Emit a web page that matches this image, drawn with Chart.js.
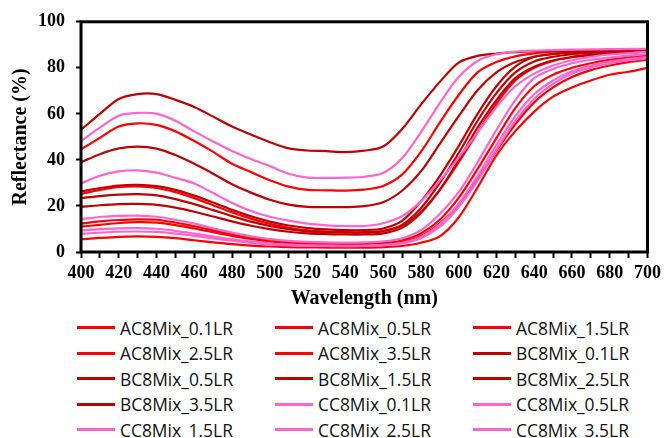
<!DOCTYPE html>
<html>
<head>
<meta charset="utf-8">
<script src="https://cdn.jsdelivr.net/npm/chart.js@4"></script>
<style>
  body { margin: 0; background: #fff; }
  #wrap { position: relative; width: 666px; height: 438px; overflow: hidden; background: #fff; }
  #box { position: absolute; left: 0; top: 0; width: 666px; height: 312px; }
  #legend {
    position: absolute; left: 77px; top: 315px;
    display: grid; grid-template-columns: 198px 198px 198px; grid-auto-rows: 25.5px;
    font-family: "Open Sans", sans-serif; font-size: 17.4px; color: #111;
  }
  .item { display: flex; align-items: center; white-space: nowrap; }
  .swatch { width: 38px; height: 3px; margin-right: 5px; }
</style>
</head>
<body>
<div id="wrap">
  <div id="box"><canvas id="chart"></canvas></div>
  <div id="legend"></div>
</div>
<script>
const wavelengths = [400, 410, 420, 430, 440, 450, 460, 470, 480, 490, 500, 510, 520, 530, 540, 550,
  560, 570, 580, 590, 600, 610, 620, 630, 640, 650, 660, 670, 680, 690, 700];

// AC8Mix (red)
const ac01 = [44.6, 49.6, 54.5, 55.9, 55.2, 52.4, 48.2, 43.5, 38.3, 34.7, 31.2, 28.4, 27.0, 26.8, 26.7, 27.1, 28.7,
  33.6, 43.5, 56.2, 68.2, 78.0, 82.5, 85.0, 86.3, 87.0, 87.4, 87.6, 87.8, 87.9, 88.0];
const ac05 = [25.2, 27.0, 28.3, 28.5, 27.8, 26.0, 23.4, 20.3, 17.2, 14.5, 12.2, 10.5, 9.4, 8.9, 8.6, 8.6, 9.2,
  11.5, 17.5, 27.0, 39.0, 52.0, 64.5, 74.5, 80.0, 83.0, 84.6, 85.5, 86.1, 86.6, 87.0];
const ac15 = [12.4, 13.3, 13.9, 14.2, 14.0, 12.8, 11.2, 9.4, 7.6, 6.1, 5.0, 4.2, 3.8, 3.6, 3.5, 3.6, 3.9,
  5.0, 8.0, 14.0, 23.5, 36.0, 49.5, 62.5, 72.0, 77.0, 80.0, 82.0, 83.5, 84.5, 85.3];
const ac25 = [11.0, 11.8, 12.6, 13.0, 12.8, 11.7, 10.2, 8.6, 7.0, 5.7, 4.6, 3.8, 3.4, 3.2, 3.1, 3.2, 3.5,
  4.4, 7.0, 12.5, 20.5, 31.5, 44.0, 55.5, 65.0, 71.5, 76.0, 79.0, 81.0, 82.5, 83.5];
const ac35 = [5.5, 6.1, 6.6, 6.8, 6.6, 6.0, 5.1, 4.2, 3.4, 2.8, 2.4, 2.1, 2.0, 1.9, 1.9, 1.9, 2.1,
  2.6, 4.0, 6.8, 15.0, 28.0, 42.0, 52.5, 61.0, 67.5, 71.5, 74.5, 77.0, 78.3, 80.0];

// BC8Mix (dark red)
const bc01 = [53.1, 60.0, 66.5, 68.6, 68.6, 66.1, 63.0, 58.8, 54.5, 51.0, 47.7, 45.0, 44.1, 43.8, 43.4, 44.0, 45.8,
  53.4, 64.0, 73.9, 82.3, 85.2, 86.2, 86.8, 87.2, 87.4, 87.6, 87.7, 87.8, 87.9, 88.0];
const bc05 = [39.0, 42.5, 45.0, 45.8, 44.9, 42.1, 38.3, 34.0, 29.4, 25.8, 22.7, 20.6, 19.6, 19.5, 19.5, 19.9, 21.6,
  26.6, 35.0, 47.0, 59.0, 70.3, 78.0, 82.5, 84.8, 86.0, 86.7, 87.1, 87.4, 87.6, 87.8];
const bc15 = [26.3, 27.8, 28.9, 29.2, 28.6, 27.0, 24.5, 21.5, 18.3, 15.5, 13.2, 11.5, 10.4, 9.8, 9.5, 9.5, 10.2,
  13.5, 22.0, 33.0, 46.0, 60.0, 72.0, 80.5, 84.8, 86.0, 86.7, 87.1, 87.4, 87.6, 87.8];
const bc25 = [23.4, 24.3, 24.9, 25.1, 24.6, 23.0, 20.8, 18.2, 15.6, 13.2, 11.3, 9.9, 9.0, 8.6, 8.4, 8.4, 9.0,
  11.8, 19.0, 30.0, 43.0, 57.0, 69.0, 78.0, 82.8, 84.8, 85.9, 86.5, 87.0, 87.3, 87.5];
const bc35 = [19.6, 20.3, 20.8, 20.9, 20.5, 19.3, 17.5, 15.4, 13.3, 11.4, 9.9, 8.8, 8.1, 7.8, 7.6, 7.6, 8.1,
  10.5, 17.0, 27.0, 40.0, 54.0, 66.0, 75.5, 80.5, 83.2, 84.7, 85.6, 86.2, 86.7, 87.0];

// CC8Mix (pink)
const cc01 = [48.2, 54.0, 59.2, 60.4, 60.1, 57.0, 52.4, 48.0, 43.9, 40.4, 37.3, 34.0, 32.3, 32.2, 32.3, 32.7, 34.3,
  40.7, 52.0, 64.7, 76.0, 83.0, 85.9, 87.0, 87.5, 87.7, 87.9, 88.0, 88.1, 88.2, 88.3];
const cc05 = [29.8, 33.1, 35.0, 35.5, 34.5, 32.2, 29.8, 25.6, 21.3, 17.8, 15.3, 13.6, 12.3, 11.6, 11.3, 11.3, 12.5,
  15.5, 22.0, 31.0, 41.0, 52.0, 63.0, 72.0, 77.5, 81.0, 83.3, 84.8, 85.8, 86.4, 87.0];
const cc15 = [14.3, 15.2, 15.7, 15.8, 15.3, 14.0, 12.3, 10.3, 8.4, 6.8, 5.6, 4.8, 4.4, 4.2, 4.1, 4.2, 4.6,
  6.0, 9.5, 16.5, 26.0, 39.0, 53.0, 66.0, 75.5, 79.5, 82.0, 83.5, 84.5, 85.3, 86.0];
const cc25 = [9.3, 9.9, 10.3, 10.4, 10.1, 9.2, 8.0, 6.7, 5.5, 4.5, 3.7, 3.2, 2.9, 2.8, 2.7, 2.8, 3.1,
  4.0, 6.5, 12.0, 21.0, 33.0, 46.5, 59.0, 68.5, 74.5, 78.5, 81.0, 82.7, 83.8, 84.7];
const cc35 = [7.9, 8.4, 8.8, 8.9, 8.7, 8.0, 7.0, 5.9, 4.9, 4.0, 3.3, 2.9, 2.7, 2.6, 2.5, 2.6, 2.9,
  3.7, 6.0, 11.0, 19.5, 31.0, 44.5, 57.0, 66.5, 73.0, 77.5, 80.2, 82.0, 83.3, 84.2];

const seriesNames = [
  "AC8Mix_0.1LR", "AC8Mix_0.5LR", "AC8Mix_1.5LR", "AC8Mix_2.5LR", "AC8Mix_3.5LR",
  "BC8Mix_0.1LR", "BC8Mix_0.5LR", "BC8Mix_1.5LR", "BC8Mix_2.5LR", "BC8Mix_3.5LR",
  "CC8Mix_0.1LR", "CC8Mix_0.5LR", "CC8Mix_1.5LR", "CC8Mix_2.5LR", "CC8Mix_3.5LR"
];
const seriesValues = [ac01, ac05, ac15, ac25, ac35, bc01, bc05, bc15, bc25, bc35, cc01, cc05, cc15, cc25, cc35];

const RED = "#FF0000", DARK = "#C00000", PINK = "#FF66CC";
const seriesColors = [RED, RED, RED, RED, RED, DARK, DARK, DARK, DARK, DARK, PINK, PINK, PINK, PINK, PINK];

const xTicks = { min: 400, max: 700, step: 10, labelEvery: 20 };
const yTicks = { min: 0, max: 100, step: 20 };

Chart.defaults.color = "#000";
const tickFont = { family: "'Liberation Serif', 'Times New Roman', serif", size: 18, weight: "bold" };
const titleFont = { family: "'Liberation Serif', 'Times New Roman', serif", size: 20, weight: "bold" };

// frame round the plot area, like the Excel plot border
const frame = {
  id: "frame",
  afterDraw(chart) {
    const { ctx, chartArea: a } = chart;
    ctx.save();
    ctx.strokeStyle = "#000";
    ctx.lineWidth = 3;
    ctx.strokeRect(a.left, a.top, a.right - a.left, a.bottom - a.top);
    ctx.restore();
  }
};

const datasets = seriesValues.map((vals, i) => ({
  label: seriesNames[i],
  data: vals.map((v, k) => ({ x: wavelengths[k], y: v })),
  borderColor: seriesColors[i],
  backgroundColor: seriesColors[i],
  borderWidth: 2.2,
  pointRadius: 0,
  tension: 0.3,
  fill: false,
  order: -i
}));

const chart = new Chart(document.getElementById("chart"), {
  type: "line",
  data: { datasets },
  options: {
    responsive: true,
    maintainAspectRatio: false,
    animation: false,
    layout: { padding: { top: 16, right: 15, left: 0, bottom: 0 } },
    plugins: { legend: { display: false }, tooltip: { enabled: false } },
    scales: {
      x: {
        type: "linear",
        min: xTicks.min,
        max: xTicks.max,
        afterFit: s => { s.height = 60; },
        border: { display: false },
        grid: { drawOnChartArea: false, drawTicks: true, tickLength: 6, tickColor: "#000", tickWidth: 2 },
        ticks: {
          stepSize: xTicks.step,
          autoSkip: false,
          maxRotation: 0,
          padding: 5,
          font: tickFont,
          callback: v => (v % xTicks.labelEvery === 0 ? v : "")
        },
        title: { display: true, text: "Wavelength (nm)", font: titleFont, padding: { top: 0, bottom: 1 } }
      },
      y: {
        min: yTicks.min,
        max: yTicks.max,
        afterFit: s => { s.width = 81; },
        border: { display: false },
        grid: { drawOnChartArea: false, drawTicks: true, tickLength: 5, tickColor: "#000", tickWidth: 2 },
        ticks: { stepSize: yTicks.step, padding: 11, font: tickFont },
        title: { display: true, text: "Reflectance (%)", font: titleFont, padding: { top: 9, bottom: 0 } }
      }
    }
  },
  plugins: [frame]
});

// legend in three columns, built from the chart's datasets
const legend = document.getElementById("legend");
chart.data.datasets.forEach(ds => {
  const item = document.createElement("div");
  item.className = "item";
  item.innerHTML = `<span class="swatch" style="background:${ds.borderColor}"></span><span>${ds.label}</span>`;
  legend.appendChild(item);
});
</script>
</body>
</html>
